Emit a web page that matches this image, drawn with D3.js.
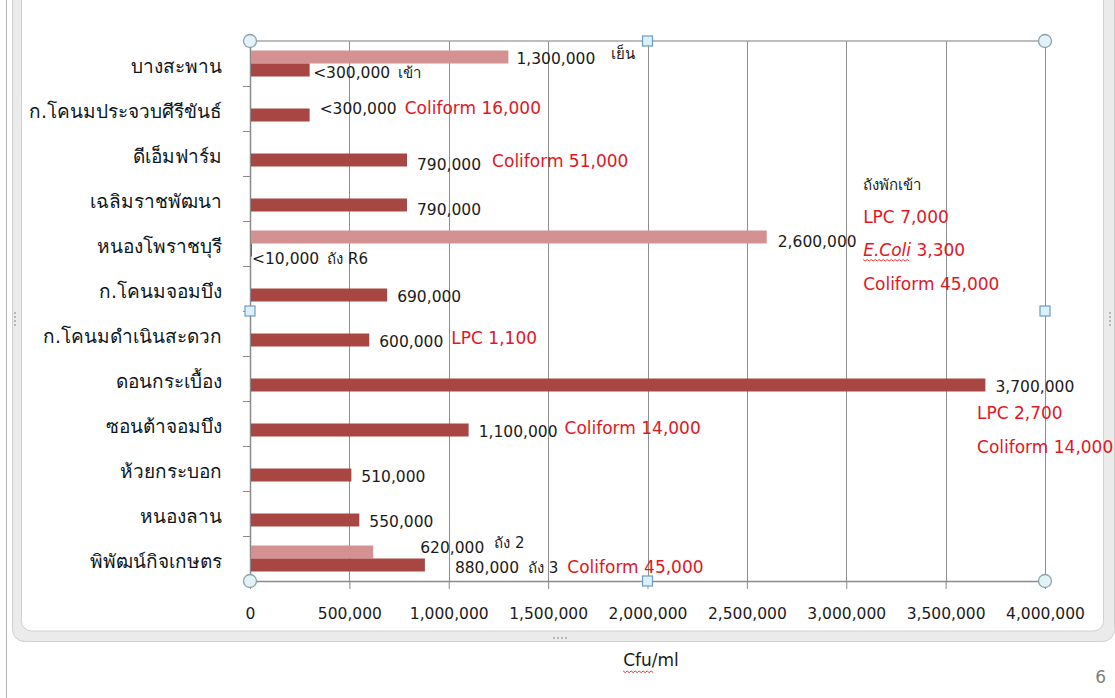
<!DOCTYPE html>
<html>
<head>
<meta charset="utf-8">
<script src="https://cdn.jsdelivr.net/npm/d3@7"></script>
<style>
  body { margin: 0; background: #fff; }
  svg text { font-family: "DejaVu Sans", "Noto Sans", sans-serif; }
</style>
</head>
<body>
<div class="chart"></div>
<script>
// categories, top to bottom
var categories = ["บางสะพาน", "ก.โคนมประจวบศีรีขันธ์", "ดีเอ็มฟาร์ม", "เฉลิมราชพัฒนา",
  "หนองโพราชบุรี", "ก.โคนมจอมบึง", "ก.โคนมดำเนินสะดวก", "ดอนกระเบื้อง",
  "ซอนต้าจอมบึง", "ห้วยกระบอก", "หนองลาน", "พิพัฒน์กิจเกษตร"];

// dark series (lower bar in each group)
var darkValues = [300000, 300000, 790000, 790000, 10000, 690000, 600000, 3700000,
  1100000, 510000, 550000, 880000];
var darkLabels = ["<300,000", "<300,000", "790,000", "790,000", "<10,000", "690,000",
  "600,000", "3,700,000", "1,100,000", "510,000", "550,000", "880,000"];
var darkTags = ["เข้า", "", "", "", "ถัง R6", "", "", "", "", "", "", "ถัง 3"];

// light series (upper bar, only three plants)
var lightValues = [1300000, null, null, null, 2600000, null, null, null, null, null, null, 620000];
var lightLabels = ["1,300,000", "", "", "", "2,600,000", "", "", "", "", "", "", "620,000"];
var lightTags = ["เย็น", "", "", "", "", "", "", "", "", "", "", "ถัง 2"];

// red notes after the dark label
var redNotes = ["", "Coliform 16,000", "Coliform 51,000", "", "", "", "LPC 1,100", "",
  "Coliform 14,000", "", "", "Coliform 45,000"];

// floating note blocks
var noteTank = ["ถังพักเข้า", "LPC 7,000", "E.Coli 3,300", "Coliform 45,000"];
var noteDon = ["LPC 2,700", "Coliform 14,000"];

var xTicks = [0, 500000, 1000000, 1500000, 2000000, 2500000, 3000000, 3500000, 4000000];
var xTitle = "Cfu/ml";

var W = 1115, H = 698;
var plotL = 250, plotR = 1045, plotT = 41, plotB = 581;
var darkColor = "#a84644", lightColor = "#d39291", red = "#e2161f", ink = "#1b1b1b";

var svg = d3.select(".chart").append("svg")
  .attr("width", W).attr("height", H);

// page edge + chart frame
svg.append("line").attr("x1", 6.5).attr("x2", 6.5).attr("y1", 0).attr("y2", H)
  .attr("stroke", "#b4b4b4");
svg.append("rect").attr("x", 12.5).attr("y", -30).attr("width", 1102).attr("height", 671.5)
  .attr("rx", 12).attr("fill", "#ebebeb").attr("stroke", "#cfcfcf");
svg.append("rect").attr("x", 21.5).attr("y", -30).attr("width", 1082).attr("height", 661)
  .attr("rx", 10).attr("fill", "#fff").attr("stroke", "#d2d2d2");
// grip dots
[[553, 637], [557, 637], [561, 637], [565, 637]].forEach(function(p) {
  svg.append("rect").attr("x", p[0]).attr("y", p[1]).attr("width", 2).attr("height", 2).attr("fill", "#b8b8b8");
});
[[14, 312], [14, 316], [14, 320], [14, 324], [1109, 312], [1109, 316], [1109, 320], [1109, 324]].forEach(function(p) {
  svg.append("rect").attr("x", p[0]).attr("y", p[1]).attr("width", 2).attr("height", 2).attr("fill", "#b8b8b8");
});

var x = d3.scaleLinear().domain([0, 4000000]).range([plotL, plotR]);
var y = d3.scaleBand().domain(categories).range([plotT, plotB])
  .paddingInner(0.4222).paddingOuter(0.2111);
var slot = d3.scaleBand().domain(["light", "dark"]).range([0, y.bandwidth()]);

// vertical gridlines
svg.append("g").selectAll("line").data(xTicks.slice(1)).enter().append("line")
  .attr("x1", function(d) { return Math.round(x(d)) + 0.5; })
  .attr("x2", function(d) { return Math.round(x(d)) + 0.5; })
  .attr("y1", plotT).attr("y2", plotB)
  .attr("stroke", "#8f8f8f");

// top border of the plot area
svg.append("line").attr("x1", plotL).attr("x2", plotR).attr("y1", plotT).attr("y2", plotT)
  .attr("stroke", "#a6a6a6").attr("stroke-width", 1.5);

// x axis
var xAxis = svg.append("g").attr("transform", "translate(0," + plotB + ")")
  .call(d3.axisBottom(x).tickValues(xTicks).tickFormat(d3.format(",")).tickSizeInner(8).tickSizeOuter(0).tickPadding(19));
xAxis.select(".domain").attr("stroke", "#8a8a8a").attr("stroke-width", 1.5);
xAxis.selectAll(".tick line").attr("stroke", "#8a8a8a");
xAxis.selectAll(".tick text").attr("fill", ink).style("font-size", "15.5px")
  .style("font-family", "'DejaVu Sans', sans-serif");

// y axis: line with ticks at band boundaries
var step = y.step();
var bounds = d3.range(categories.length + 1).map(function(i) { return plotT + i * step; });
svg.append("line").attr("x1", plotL + 0.5).attr("x2", plotL + 0.5).attr("y1", plotT).attr("y2", plotB)
  .attr("stroke", "#8a8a8a").attr("stroke-width", 1.5);
svg.append("g").selectAll("line").data(bounds).enter().append("line")
  .attr("x1", plotL - 7).attr("x2", plotL)
  .attr("y1", function(d) { return Math.round(d) + 0.5; })
  .attr("y2", function(d) { return Math.round(d) + 0.5; })
  .attr("stroke", "#8a8a8a");

// category labels
svg.append("g").selectAll("text").data(categories).enter().append("text")
  .attr("x", 222)
  .attr("y", function(d) { return y(d) + y.bandwidth() / 2 + 9; })
  .attr("text-anchor", "end")
  .attr("fill", "#0e1620")
  .style("font-size", "19px")
  .style("font-weight", "500")
  .text(function(d) { return d; });

// bars
var rows = categories.map(function(c, i) {
  return { cat: c, i: i, dark: darkValues[i], light: lightValues[i] };
});
svg.append("g").selectAll("rect").data(rows.filter(function(d) { return d.light != null; }))
  .enter().append("rect")
  .attr("x", x(0) + 1)
  .attr("y", function(d) { return y(d.cat) + slot("light"); })
  .attr("width", function(d) { return x(d.light) - x(0) - 1; })
  .attr("height", slot.bandwidth())
  .attr("fill", lightColor);
svg.append("g").selectAll("rect").data(rows).enter().append("rect")
  .attr("x", x(0) + 1)
  .attr("y", function(d) { return y(d.cat) + slot("dark"); })
  .attr("width", function(d) { return Math.max(1, x(d.dark) - x(0) - 1); })
  .attr("height", slot.bandwidth())
  .attr("fill", darkColor);

// label nudges (labels were dragged by hand in the original)
var darkDx = { 0: 3.5, 4: -x(10000) + x(0) + 2, 11: 30 };
var darkDy = { 0: 1, 1: -8, 2: 3, 3: 3, 4: 7, 7: 0, 8: 0, 11: 1 };
var lightDx = { 0: 8, 4: 11, 11: 47 };
var lightDy = { 0: 7, 4: 10, 11: 1 };
var noteGap = { 1: 8, 2: 11, 6: 8, 8: 7, 11: 9 };

// dark labels + tags + red notes
var dl = svg.append("g").selectAll("text").data(rows).enter().append("text")
  .attr("x", function(d) { return x(d.dark) + (d.i in darkDx ? darkDx[d.i] : 10); })
  .attr("y", function(d) { return y(d.cat) + slot("dark") + slot.bandwidth() / 2 + 7 + (darkDy[d.i] || 0); })
  .attr("fill", ink)
  .style("font-size", "15.5px");
dl.append("tspan").text(function(d) { return darkLabels[d.i]; });
dl.append("tspan").attr("dx", function(d) { return d.i === 11 ? 9 : 8; })
  .style("font-size", "15px")
  .text(function(d) { return darkTags[d.i]; });
dl.append("tspan")
  .attr("dx", function(d) { return noteGap[d.i] || 8; })
  .attr("dy", function(d) { return d.i === 11 ? 0 : (d.i === 1 ? 0 : -3); })
  .attr("fill", red)
  .style("font-size", "17px")
  .text(function(d) { return redNotes[d.i]; });

// light labels + tags
var ll = svg.append("g").selectAll("text").data(rows.filter(function(d) { return d.light != null; }))
  .enter().append("text")
  .attr("x", function(d) { return x(d.light) + lightDx[d.i]; })
  .attr("y", function(d) { return y(d.cat) + slot("light") + slot.bandwidth() / 2 + lightDy[d.i]; })
  .attr("fill", ink)
  .style("font-size", "15.5px");
ll.append("tspan").text(function(d) { return lightLabels[d.i]; });
ll.append("tspan").attr("dx", function(d) { return d.i === 0 ? 16 : 10; })
  .attr("dy", -5)
  .style("font-size", "15px")
  .text(function(d) { return lightTags[d.i]; });

// floating notes: holding tank (next to หนองโพราชบุรี) and ดอนกระเบื้อง
function noteBlock(lines, xv, cat, offsets) {
  var g = svg.append("g");
  lines.forEach(function(t, k) {
    var tx = g.append("text")
      .attr("x", x(xv))
      .attr("y", y(cat) + y.bandwidth() / 2 + offsets[k])
      .attr("fill", t.indexOf("ถัง") === 0 ? ink : red)
      .style("font-size", t.indexOf("ถัง") === 0 ? "15px" : "17px");
    if (t.indexOf("E.Coli") === 0) {
      var it = tx.append("tspan").style("font-style", "italic").text("E.Coli");
      tx.append("tspan").text(t.slice(6));
      var w = it.node().getComputedTextLength();
      squiggle(x(xv), +tx.attr("y") + 4, w);
    } else {
      tx.text(t);
    }
  });
}
function squiggle(x0, y0, w) {
  var pts = d3.range(0, Math.floor(w / 2) + 1).map(function(k) {
    return [x0 + k * 2, y0 + (k % 2 ? 1.6 : 0)];
  });
  svg.append("path").attr("d", d3.line()(pts)).attr("fill", "none")
    .attr("stroke", "#e8383d").attr("stroke-width", 1);
}
noteBlock(noteTank, 3085000, categories[4], [-54, -21, 12, 46]);
noteBlock(noteDon, 3658000, categories[7], [40, 74]);

// axis title
var tt = svg.append("text").attr("x", 651).attr("y", 666)
  .attr("text-anchor", "middle").attr("fill", ink)
  .style("font-size", "17px").text(xTitle);
var tw = tt.node().getComputedTextLength();
squiggle(651 - tw / 2, 671, 30);

// page number
svg.append("text").attr("x", 1106).attr("y", 683).attr("text-anchor", "end")
  .attr("fill", "#7f7f7f").style("font-size", "17px").text("6");

// selection handles of the plot area
var corners = [[plotL, plotT], [plotR, plotT], [plotL, plotB], [plotR, plotB]];
var mids = [[(plotL + plotR) / 2, plotT], [plotL, (plotT + plotB) / 2], [plotR, (plotT + plotB) / 2], [(plotL + plotR) / 2, plotB]];
svg.append("g").selectAll("circle").data(corners).enter().append("circle")
  .attr("cx", function(d) { return d[0]; }).attr("cy", function(d) { return d[1]; })
  .attr("r", 6.5).attr("fill", "#e2f3f7").attr("stroke", "#8ea2ad").attr("stroke-width", 1.3);
svg.append("g").selectAll("rect").data(mids).enter().append("rect")
  .attr("x", function(d) { return d[0] - 5; }).attr("y", function(d) { return d[1] - 5; })
  .attr("width", 10).attr("height", 10)
  .attr("fill", "#dcf0fb").attr("stroke", "#6e9cc2").attr("stroke-width", 1.2);
</script>
</body>
</html>
